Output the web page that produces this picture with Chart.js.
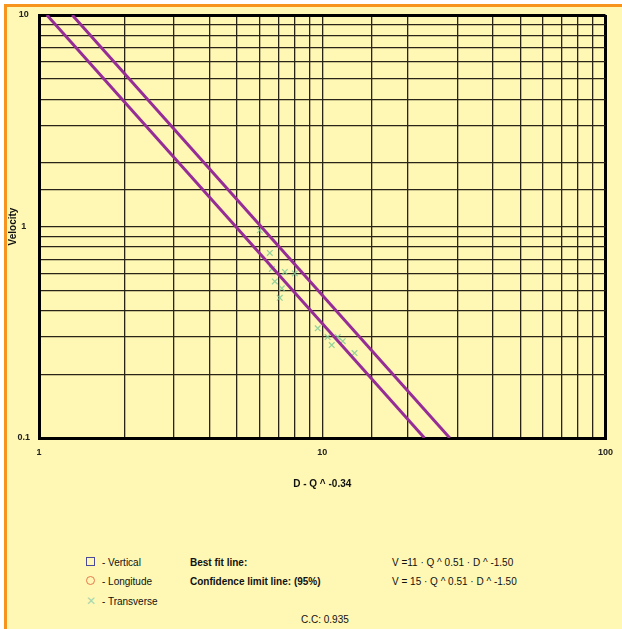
<!DOCTYPE html>
<html>
<head>
<meta charset="utf-8">
<script src="https://cdn.jsdelivr.net/npm/chart.js@4.4.1/dist/chart.umd.min.js"></script>
<style>
  body { margin: 0; background: #fff; font-family: "Liberation Sans", Arial, sans-serif; }
  #page { position: absolute; left: 0; top: 0; width: 622px; height: 629px; overflow: hidden; }
  #panel { position: absolute; left: 4px; top: 4px; width: 618px; height: 625px;
           border-left: 3px solid #f7941d; border-top: 3px solid #f7941d; background: #fff7b4; box-sizing: border-box; }
  #myChart { position: absolute; left: 0; top: 0; }
  .txt { position: absolute; font-size: 10px; color: #111; white-space: nowrap; line-height: 12px; }
  .b { font-weight: bold; }
  .mk { position: absolute; font-size: 11px; line-height: 12px; }
</style>
</head>
<body>
<div id="page">
  <div id="panel"></div>
  <canvas id="myChart" width="622" height="500"></canvas>

  <div class="mk" style="left:86px;top:557px;width:7px;height:7px;border:1.5px solid #4b4a9a;"></div>
  <div class="mk" style="left:86px;top:576px;width:7px;height:7px;border:1.5px solid #e8784a;border-radius:50%;"></div>
  <div class="mk" style="left:86px;top:595px;color:#a6d8b0;font-size:12px;">&#x2715;</div>

  <div class="txt" style="left:102px;top:557px;">- Vertical</div>
  <div class="txt" style="left:102px;top:576px;">- Longitude</div>
  <div class="txt" style="left:102px;top:596px;">- Transverse</div>

  <div class="txt b" style="left:190px;top:557px;">Best fit line:</div>
  <div class="txt b" style="left:190px;top:576px;">Confidence limit line: (95%)</div>

  <div class="txt" style="left:392px;top:557px;">V =11 · Q ^ 0.51 · D ^ -1.50</div>
  <div class="txt" style="left:392px;top:576px;">V = 15 · Q ^ 0.51 · D ^ -1.50</div>

  <div class="txt" style="left:301px;top:614px;">C.C: 0.935</div>
</div>

<script>
// transverse measurements (D·Q^-0.34 , velocity)
const transX = [6.02, 6.53, 6.64, 7.38, 8.0, 6.80, 7.20, 7.08, 9.64, 10.45, 11.34, 10.8, 11.81, 13.0];
const transY = [0.96, 0.75, 0.63, 0.61, 0.60, 0.55, 0.51, 0.46, 0.33, 0.30, 0.30, 0.275, 0.287, 0.252];

// best fit line and confidence limit line, end points
const fitX = [1.066, 22.96];
const fitY = [10, 0.1];
const limX = [1.31, 28.2];
const limY = [10, 0.1];

const xRange = [1, 100];
const yRange = [0.1, 10];

const lineColor = 'rgba(150, 45, 150, 1)';

function toPoints(xs, ys) {
    let pts = [];
    for (let i = 0; i < xs.length; i++) pts.push({ x: xs[i], y: ys[i] });
    return pts;
}

function decadeLabel(value) {
    const l = Math.log10(value);
    if (Math.abs(l - Math.round(l)) < 1e-6) return String(Number(value.toPrecision(3)));
    return '';
}

function isEdge(v, range) {
    return Math.abs(v - range[0]) < 1e-9 || Math.abs(v - range[1]) < 1e-9;
}

const tickFont = { family: 'Liberation Sans, Arial', size: 9, weight: 'bold' };
const titleFont = { family: 'Liberation Sans, Arial', size: 10, weight: 'bold' };

const config = {
    type: 'scatter',
    data: {
        datasets: [
            {
                label: 'Best fit',
                type: 'line',
                data: toPoints(fitX, fitY),
                borderColor: lineColor,
                borderWidth: 3,
                pointRadius: 0,
                fill: false
            },
            {
                label: 'Confidence limit',
                type: 'line',
                data: toPoints(limX, limY),
                borderColor: lineColor,
                borderWidth: 3,
                pointRadius: 0,
                fill: false
            },
            {
                label: 'Transverse',
                data: toPoints(transX, transY),
                pointStyle: 'crossRot',
                pointRadius: 4,
                borderColor: 'rgba(120, 200, 150, 0.8)',
                borderWidth: 1.2
            }
        ]
    },
    options: {
        responsive: false,
        animation: false,
        layout: { padding: { left: 0, top: 15, right: 16, bottom: 10 } },
        plugins: { legend: { display: false }, tooltip: { enabled: false } },
        scales: {
            x: {
                type: 'logarithmic',
                min: xRange[0],
                max: xRange[1],
                afterFit: function (scale) { scale.height = 52; },
                border: { display: true, color: '#000', width: 3 },
                grid: {
                    drawTicks: false,
                    color: function (ctx) { return isEdge(ctx.tick.value, xRange) ? '#000' : '#2a2418'; },
                    lineWidth: function (ctx) { return isEdge(ctx.tick.value, xRange) ? 3 : 1.3; }
                },
                ticks: {
                    autoSkip: false,
                    maxRotation: 0,
                    padding: 9,
                    color: '#222',
                    font: tickFont,
                    callback: decadeLabel
                },
                title: { display: true, text: 'D - Q ^ -0.34', color: '#111', font: titleFont, padding: 0 }
            },
            y: {
                type: 'logarithmic',
                min: yRange[0],
                max: yRange[1],
                afterFit: function (scale) { scale.width = 39; },
                border: { display: true, color: '#000', width: 3 },
                grid: {
                    drawTicks: false,
                    color: function (ctx) { return isEdge(ctx.tick.value, yRange) ? '#000' : '#2a2418'; },
                    lineWidth: function (ctx) { return isEdge(ctx.tick.value, yRange) ? 3 : 1.3; }
                },
                ticks: {
                    autoSkip: false,
                    crossAlign: 'center',
                    padding: 9,
                    color: '#222',
                    font: tickFont,
                    callback: decadeLabel
                },
                title: { display: true, text: 'Velocity', color: '#111', font: titleFont, padding: { top: 7 } }
            }
        }
    }
};

var myChart = new Chart(document.getElementById('myChart'), config);
</script>
</body>
</html>
